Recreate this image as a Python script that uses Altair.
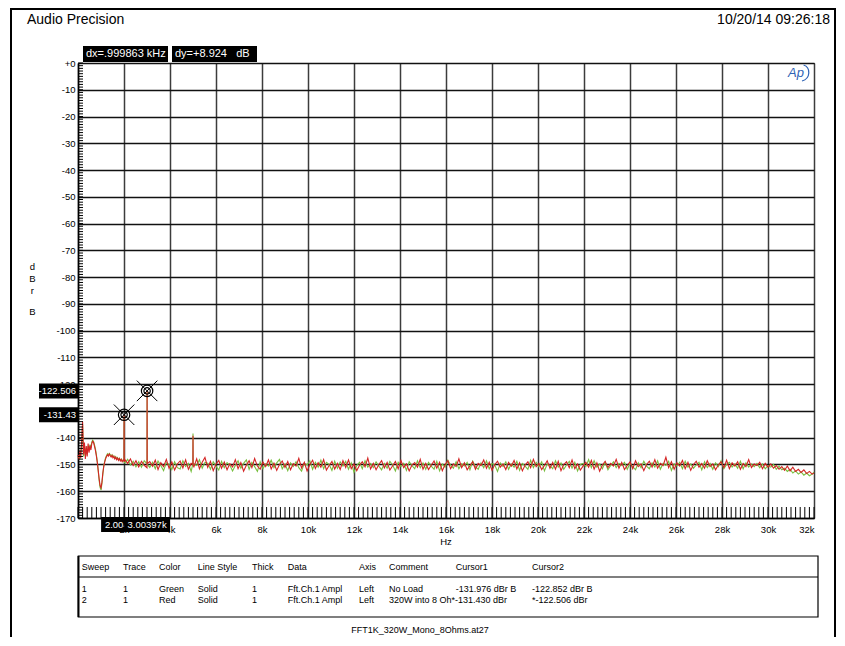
import altair as alt
import pandas as pd

FONT = "Liberation Sans"

# ---------------- data ----------------
LOW_FREQ = list(range(0, 2000, 40))          # FFT bins, low region
FLOOR_FREQ = list(range(2040, 31921, 120))   # FFT bins, rest of band

RED_LOW = [-146.5, -148.2, -144.8, -147.6, -141.2, -134.0, -146.3, -141.8, -147.9, -143.1,
           -147.0, -142.2, -145.6, -143.0, -144.6, -142.1, -141.3, -141.9, -143.3, -144.8,
           -146.9, -149.3, -152.2, -155.4, -157.9, -158.7, -156.6, -153.2, -150.8, -149.1,
           -147.9, -147.0, -146.4, -146.9, -146.1, -146.7, -147.2, -146.6, -147.5, -147.0,
           -147.9, -147.3, -148.2, -147.6, -148.5, -147.8, -148.7, -148.1, -149.0, -148.4]
GREEN_LOW = [-147.3, -146.9, -148.0, -145.2, -142.0, -135.1, -147.0, -142.6, -146.8, -144.0,
             -146.2, -143.1, -144.7, -142.6, -143.8, -141.6, -140.9, -141.5, -142.8, -144.3,
             -146.4, -149.0, -152.6, -156.0, -158.6, -159.6, -157.2, -153.6, -150.4, -148.8,
             -147.5, -146.7, -146.0, -146.5, -145.9, -146.3, -146.9, -146.4, -147.1, -146.8,
             -147.6, -147.1, -147.9, -147.4, -148.2, -147.7, -148.4, -148.0, -148.7, -148.3]

RED_FLOOR = [
    -148.2, -149.6, -147.9, -150.4, -148.6, -150.9, -148.8, -150.3, -151.2, -148.9,
    -150.7, -148.4, -151.9, -149.3, -150.8, -148.1, -151.5, -149.0, -152.1, -149.8,
    -148.7, -151.3, -148.3, -151.8, -149.6, -150.9, -147.9, -151.6, -149.2, -147.4,
    -151.1, -148.8, -152.3, -149.9, -148.5, -151.4, -149.1, -152.0, -149.7, -150.9,
    -148.2, -151.6, -149.3, -152.5, -150.3, -148.6, -151.2, -147.8, -150.6, -151.8,
    -149.1, -150.8, -148.3, -151.7, -149.5, -152.2, -150.0, -148.7, -151.1, -148.9,
    -152.0, -149.7, -150.6, -147.7, -151.3, -149.2, -152.4, -150.1, -148.4, -151.5,
    -149.3, -151.0, -148.2, -152.1, -150.4, -148.9, -151.7, -149.6, -151.9, -148.6,
    -151.1, -148.3, -151.6, -149.8, -152.3, -150.3, -149.0, -150.9, -147.6, -151.7,
    -149.6, -152.0, -150.0, -148.6, -151.3, -149.2, -152.1, -150.5, -148.9, -151.6,
    -148.5, -151.2, -149.8, -152.4, -150.2, -149.3, -151.0, -148.1, -151.8, -149.6,
    -151.9, -150.3, -148.7, -151.4, -149.2, -152.3, -150.0, -148.6, -151.6, -149.8,
    -150.8, -147.9, -151.2, -149.4, -152.0, -150.5, -149.0, -151.8, -149.6, -150.4,
    -148.3, -151.4, -149.2, -152.2, -150.0, -148.8, -151.0, -149.8, -151.9, -149.2,
    -150.6, -148.5, -151.7, -149.4, -152.4, -150.2, -149.0, -151.2, -148.1, -150.8,
    -149.6, -151.9, -150.4, -148.6, -151.4, -149.2, -151.8, -148.8, -152.3, -150.0,
    -149.0, -151.2, -148.3, -151.6, -149.8, -152.1, -150.6, -149.2, -151.0, -148.5,
    -151.8, -149.4, -152.5, -150.2, -148.8, -151.2, -149.6, -150.6, -148.1, -151.4,
    -149.2, -151.9, -150.4, -149.0, -151.6, -148.6, -150.8, -149.8, -152.3, -150.0,
    -148.8, -151.0, -148.2, -151.4, -149.6, -150.4, -147.3, -151.2, -149.0, -151.8,
    -149.4, -150.6, -148.5, -151.6, -149.2, -152.2, -150.0, -148.8, -151.0, -149.6,
    -151.4, -148.6, -150.8, -149.8, -152.0, -150.2, -149.0, -151.2, -148.4, -151.6,
    -149.4, -150.6, -149.0, -151.8, -149.6, -150.8, -148.2, -151.2, -149.8, -150.4,
    -149.2, -151.6, -149.6, -151.0, -149.8, -151.4, -150.4, -151.8, -150.8, -152.2,
    -150.6, -152.4, -151.0, -152.6, -151.8, -153.0, -152.0, -153.4, -152.6, -153.6]

GREEN_FLOOR = [
    -149.4, -148.1, -150.2, -148.8, -150.9, -149.0, -151.0, -148.6, -149.8, -151.1,
    -149.2, -151.6, -148.7, -150.4, -152.3, -149.4, -150.0, -151.9, -149.0, -151.2,
    -151.7, -148.6, -150.8, -149.6, -152.6, -149.8, -150.4, -148.2, -151.4, -149.2,
    -149.5, -151.8, -149.0, -150.6, -152.1, -148.8, -151.2, -149.3, -150.2, -152.4,
    -150.4, -148.6, -151.4, -149.6, -148.3, -151.8, -149.2, -150.8, -152.6, -149.0,
    -151.6, -149.8, -150.6, -148.4, -151.2, -149.4, -148.1, -151.6, -149.8, -152.3,
    -149.4, -150.8, -149.0, -151.2, -152.5, -149.6, -150.2, -148.6, -151.8, -149.2,
    -151.0, -148.4, -151.6, -149.2, -150.0, -152.2, -148.8, -151.4, -149.0, -150.6,
    -148.8, -151.8, -149.4, -152.9, -150.4, -149.2, -151.6, -148.6, -151.0, -149.6,
    -151.2, -149.0, -150.6, -152.0, -149.6, -151.4, -148.8, -150.2, -152.4, -149.2,
    -150.8, -149.6, -152.2, -149.0, -150.4, -151.6, -148.6, -151.2, -149.4, -151.8,
    -149.2, -150.6, -151.8, -148.8, -152.4, -149.8, -151.0, -148.4, -150.2, -151.4,
    -149.0, -151.6, -149.8, -150.6, -149.2, -152.0, -148.8, -150.8, -151.8, -149.4,
    -151.2, -148.6, -151.6, -149.6, -150.2, -152.6, -149.4, -150.8, -149.0, -151.8,
    -149.8, -151.0, -148.8, -152.2, -149.6, -150.6, -151.8, -148.4, -151.2, -149.2,
    -150.8, -149.0, -152.4, -149.8, -150.4, -151.6, -148.6, -151.0, -149.4, -151.8,
    -150.2, -148.8, -151.4, -149.2, -152.4, -150.0, -149.6, -150.8, -148.2, -151.2,
    -148.6, -151.0, -149.8, -151.6, -149.2, -152.0, -150.4, -149.0, -151.2, -149.6,
    -150.4, -149.2, -151.8, -149.6, -150.8, -152.0, -149.4, -151.2, -148.8, -150.6,
    -151.6, -149.4, -151.0, -148.6, -151.8, -149.6, -150.4, -148.8, -152.2, -149.8,
    -150.6, -149.2, -151.6, -148.8, -151.0, -149.8, -151.4, -150.2, -149.2, -152.0,
    -149.0, -151.2, -149.6, -151.8, -149.4, -150.8, -148.6, -151.6, -150.0, -149.2,
    -151.0, -149.8, -151.4, -148.8, -151.6, -149.4, -151.0, -149.8, -150.8, -149.6,
    -151.2, -149.8, -151.6, -150.4, -151.0, -150.0, -151.8, -150.6, -152.0, -151.4,
    -152.6, -151.8, -153.2, -152.4, -153.6, -152.8, -154.0, -153.2, -154.2, -153.6]

EXTRA_FREQ = [1998, 2004, 2010, 3004, 3010, 4994, 5000, 5006, 32000]
RED_EXTRA = [-148.6, -131.43, -149.0, -122.506, -149.7, -150.0, -139.3, -150.3, -153.2]
GREEN_EXTRA = [-148.9, -131.976, -149.2, -122.852, -149.9, -149.8, -138.4, -150.1, -152.9]

X_TICKS = list(range(0, 32001, 2000))
Y_TICKS = list(range(-170, 1, 10))
MINOR_X = list(range(0, 32001, 200))
MINOR_Y = list(range(-170, 1, 1))

CURSOR_F = [2004.107, 3003.97]
CURSOR_DB = [-131.43, -122.506]
CURSOR_F_LABELS = ["2.00411k", "3.00397k"]
CURSOR_DB_LABELS = ["-131.43", "-122.506"]

HEADERS = ["Sweep", "Trace", "Color", "Line Style", "Thick", "Data", "Axis", "Comment", "Cursor1", "Cursor2"]
ROW1 = ["1", "1", "Green", "Solid", "1", "Fft.Ch.1 Ampl", "Left", "No Load", "-131.976 dBr B", "-122.852 dBr B"]
ROW2 = ["2", "1", "Red", "Solid", "1", "Fft.Ch.1 Ampl", "Left", "320W into 8 Oh*-131.430 dBr", "", "*-122.506 dBr"]
COL_X = [3.7, 45, 81, 119.7, 174, 209.7, 281, 311, 377.7, 454]
Y_TITLE = ["d", "B", "r", "B"]
Y_TITLE_Y = [203.7, 216, 227.7, 249.3]

GREEN = "#78bf40"
RED = "#d42424"


def series(low, floor, extra):
    df = pd.DataFrame({"f": LOW_FREQ + FLOOR_FREQ + EXTRA_FREQ, "db": low + floor + extra})
    return df.sort_values("f").reset_index(drop=True)


green_df = series(GREEN_LOW, GREEN_FLOOR, GREEN_EXTRA)
red_df = series(RED_LOW, RED_FLOOR, RED_EXTRA)

XS = alt.Scale(domain=[0, 32000], nice=False, zero=False)
YS = alt.Scale(domain=[-170, 0], nice=False, zero=False)

ONE = pd.DataFrame({"k": [0]})


def text(px, py, txt, size=9.5, align="left", color="black", **kw):
    return alt.Chart(ONE).mark_text(
        align=align, baseline="middle", font=FONT, fontSize=size, color=color, **kw
    ).encode(x=alt.value(px), y=alt.value(py), text=alt.value(txt))


def rect(x1, x2, y1, y2, fill="black", fill_opacity=1.0, stroke="black", sw=0.0):
    return alt.Chart(ONE).mark_rect(
        fill=fill, fillOpacity=fill_opacity, stroke=stroke, strokeWidth=sw
    ).encode(x=alt.value(x1), x2=alt.value(x2), y=alt.value(y1), y2=alt.value(y2))


def rule(x1, x2, y1, y2, sw=1.0, color="black"):
    return alt.Chart(ONE).mark_rule(color=color, strokeWidth=sw).encode(
        x=alt.value(x1), x2=alt.value(x2), y=alt.value(y1), y2=alt.value(y2))


def X(field):
    return alt.X(field, scale=XS)


def Y(field):
    return alt.Y(field, scale=YS)


x_axis = alt.Axis(values=X_TICKS, tickCount=100, grid=True, gridColor="#3c3c3c", gridWidth=1.5,
                  gridOpacity=1,
                  labelExpr="datum.value == 0 ? '' : (datum.value / 1000) + 'k'",
                  labelFont=FONT, labelFontSize=9.5, labelColor="black", labelPadding=6,
                  labelFlush=True, labelOverlap=False, ticks=False, tickSize=0,
                  domain=True, domainColor="black", domainWidth=1.5, title=None)
y_axis = alt.Axis(values=Y_TICKS, tickCount=100, grid=True, gridColor="#111111", gridWidth=1.3,
                  gridOpacity=1,
                  labelExpr="datum.value == 0 ? '+0' : '-' + abs(datum.value)",
                  labelFont=FONT, labelFontSize=9.5, labelColor="black", labelPadding=3,
                  labelOverlap=False, ticks=False, tickSize=0,
                  domain=True, domainColor="black", domainWidth=1.5, title=None)

layers = []

# traces (first layer carries the axes; other layers leave axis unset so it merges)
layers.append(alt.Chart(green_df).mark_line(color=GREEN, strokeWidth=1.1).encode(
    x=alt.X("f:Q", scale=XS, axis=x_axis), y=alt.Y("db:Q", scale=YS, axis=y_axis)))
layers.append(alt.Chart(red_df).mark_line(color=RED, strokeWidth=1.1).encode(
    x=X("f:Q"), y=Y("db:Q")))

# outer frame
layers.append(rect(-67, 757, -54, 640, fill="white", fill_opacity=0, sw=2))

# minor ticks
layers.append(alt.Chart(pd.DataFrame({"f": MINOR_X})).mark_rule(color="black", strokeWidth=1).encode(
    x=X("f:Q"), y=alt.value(444), y2=alt.value(455)))
layers.append(alt.Chart(pd.DataFrame({"db": MINOR_Y})).mark_rule(color="black", strokeWidth=1).encode(
    y=Y("db:Q"), x=alt.value(0), x2=alt.value(5)))

# cursor markers
cur = pd.DataFrame({"f": CURSOR_F, "db": CURSOR_DB, "flab": CURSOR_F_LABELS, "dlab": CURSOR_DB_LABELS})
cur["f_lo"] = cur["f"] - 1000
cur["f_hi"] = cur["f"] + 1000
cur["db_hi"] = cur["db"] + 2.8
cur["db_lo"] = cur["db"] - 2.8

for size in (130, 40):
    layers.append(alt.Chart(cur).mark_point(shape="circle", filled=False, size=size, color="black",
                                            strokeWidth=1.2, opacity=1).encode(
        x=X("f:Q"), y=Y("db:Q")))
layers.append(alt.Chart(cur).mark_point(shape="M-1,-1L1,1M-1,1L1,-1", filled=False, size=420,
                                        color="black", strokeWidth=1, opacity=1).encode(
    x=X("f:Q"), y=Y("db:Q")))

# y cursor readouts
layers.append(alt.Chart(cur).mark_rect(color="black").encode(
    x=alt.value(-39), x2=alt.value(0), y=Y("db_hi:Q"), y2=alt.Y2("db_lo:Q")))
layers.append(alt.Chart(cur).mark_text(align="right", baseline="middle", font=FONT, fontSize=9.5,
                                       color="white").encode(
    x=alt.value(-2), y=Y("db:Q"), text="dlab:N"))

# x cursor readouts (second drawn over first)
for i in range(len(CURSOR_F)):
    sub = cur.iloc[[i]]
    layers.append(alt.Chart(sub).mark_rect(color="black").encode(
        x=X("f_lo:Q"), x2=alt.X2("f_hi:Q"), y=alt.value(454), y2=alt.value(469)))
    layers.append(alt.Chart(sub).mark_text(align="center", baseline="middle", font=FONT, fontSize=9.5,
                                           color="white").encode(
        x=X("f:Q"), y=alt.value(461.5), text="flab:N"))

# header texts
layers.append(text(-51, -43, "Audio Precision", size=14))
layers.append(text(752, -43, "10/20/14 09:26:18", size=14, align="right"))
layers.append(rect(5, 90, -17, -1))
layers.append(text(8, -9, "dx=.999863 kHz", size=11, color="white"))
layers.append(rect(94, 179, -17, -1))
layers.append(text(97, -9, "dy=+8.924\u00a0\u00a0\u00a0dB", size=11, color="white"))

# Ap logo
layers.append(text(718, 10, "Ap", size=13, align="center", color="#2f63b5", fontStyle="italic"))
layers.append(alt.Chart(ONE).mark_point(shape="M-0.3,-1C0.6,-0.7,0.6,0.7,-0.5,1", filled=False, size=256,
                                        color="#2f63b5", strokeWidth=1.2, opacity=1).encode(
    x=alt.value(728), y=alt.value(10)))

# axis titles
for ch, ty in zip(Y_TITLE, Y_TITLE_Y):
    layers.append(text(-45.7, ty, ch, align="center"))
layers.append(text(368, 479, "Hz", align="center"))

# table
layers.append(rect(0.3, 740, 493, 554, fill="white", fill_opacity=0, sw=1.2))
layers.append(rule(0.5, 0.5, 493, 554, sw=2))
layers.append(rule(0.3, 740, 514, 514, sw=1.2))
for cx, h, r1, r2 in zip(COL_X, HEADERS, ROW1, ROW2):
    layers.append(text(cx, 504, h, size=9))
    layers.append(text(cx, 526, r1, size=9))
    if r2:
        layers.append(text(cx, 537, r2, size=9))
layers.append(text(342, 567, "FFT1K_320W_Mono_8Ohms.at27", size=9, align="center"))

chart = alt.layer(*layers).properties(
    width=736, height=455,
    padding={"left": 70, "top": 55, "right": 22, "bottom": 119},
    autosize=alt.AutoSizeParams(type="none"),
    background="white",
).configure_view(stroke="#333333", strokeWidth=1)

chart.save("out.html", embed_options={"renderer": "svg", "actions": False})
